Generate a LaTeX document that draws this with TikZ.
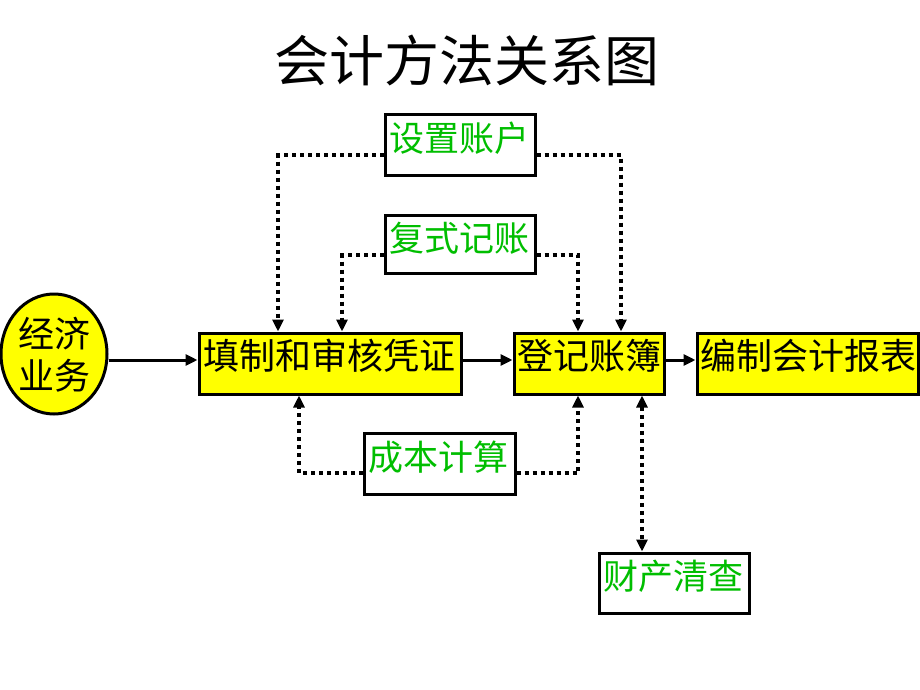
\documentclass[tikz,border=0pt]{standalone}
\usepackage{fontspec}
\setmainfont{Noto Sans CJK SC}
\usetikzlibrary{arrows.meta,shapes.geometric}
\definecolor{boxyellow}{RGB}{255,255,0}
\definecolor{txtgreen}{RGB}{0,190,0}
\begin{document}
\begin{tikzpicture}[x=1pt,y=-1pt,
  frame/.style={draw=black,line width=3pt,inner sep=0pt,minimum height=61pt},
  ybox/.style={frame,fill=boxyellow},
  wbox/.style={frame,fill=white},
  gtxt/.style={text=txtgreen,inner sep=0pt,font=\fontsize{35}{42}\selectfont},
  btxt/.style={text=black,inner sep=0pt,font=\fontsize{36}{42}\selectfont},
  solidarrow/.style={line width=3pt,-{Triangle[width=11pt,length=12pt]}},
  dotarrow/.style={line width=3.5pt,dash pattern=on 4pt off 4pt,-{Triangle[width=11pt,length=12pt]}},
  dotdbl/.style={line width=3.5pt,dash pattern=on 4pt off 4pt,{Triangle[width=11pt,length=12pt]}-{Triangle[width=11pt,length=12pt]}}
]
\useasboundingbox (0,0) rectangle (920,690);
\fill[white] (0,0) rectangle (920,690);

% title
\node[inner sep=0pt,font=\fontsize{55}{60}\selectfont] (title) at (467,60) {会计方法关系图};

% boxes
\node[wbox,minimum width=150pt,minimum height=60pt] (sz) at (460,145) {};
\node[gtxt] (szt) at (459,138) {设置账户};
\node[wbox,minimum width=150pt,minimum height=58pt] (fs) at (460,244) {};
\node[gtxt] (fst) at (459,238) {复式记账};

\node[ellipse,draw=black,line width=3pt,fill=boxyellow,minimum width=106pt,minimum height=120pt,inner sep=0pt] (jj) at (54,354) {};
\node[btxt,align=center] (jjt) at (54,355) {经济\\业务};

\node[ybox,minimum width=262pt] (tz) at (330,363.5) {};
\node[btxt] (tzt) at (329,356) {填制和审核凭证};
\node[ybox,minimum width=150pt] (dj) at (589,363.5) {};
\node[btxt] (djt) at (589,356) {登记账簿};
\node[ybox,minimum width=221pt] (bz) at (807.5,363.5) {};
\node[btxt] (bzt) at (808,356) {编制会计报表};

\node[wbox,minimum width=151pt] (cb) at (439.5,463.5) {};
\node[gtxt] (cbt) at (438,457) {成本计算};
\node[wbox,minimum width=150pt,minimum height=60pt] (cc) at (674,583) {};
\node[gtxt] (cct) at (673,576) {财产清查};

% helper coordinates
\coordinate (mainy) at (0,360);
\coordinate (szy) at (0,155);
\coordinate (fsy) at (0,255);
\coordinate (cby) at (0,473);
\coordinate (c1) at (278,0);
\coordinate (c2) at (342,0);
\coordinate (c3) at (578,0);
\coordinate (c4) at (621,0);
\coordinate (c5) at (299,0);
\coordinate (c6) at (642,0);

% solid arrows
\draw[solidarrow] (jj.east |- mainy) -- (tz.west |- mainy);
\draw[solidarrow] (tz.east |- mainy) -- (dj.west |- mainy);
\draw[solidarrow] (dj.east |- mainy) -- (bz.west |- mainy);

% dotted connectors
\draw[dotarrow] (sz.west |- szy) -| (tz.north -| c1);
\draw[dotarrow] (sz.east |- szy) -| (dj.north -| c4);
\draw[dotarrow] (fs.west |- fsy) -| (tz.north -| c2);
\draw[dotarrow] (fs.east |- fsy) -| (dj.north -| c3);
\draw[dotarrow] (cb.west |- cby) -| (tz.south -| c5);
\draw[dotarrow] (cb.east |- cby) -| (dj.south -| c3);
\draw[dotdbl] (dj.south -| c6) -- (cc.north -| c6);
\end{tikzpicture}
\end{document}
